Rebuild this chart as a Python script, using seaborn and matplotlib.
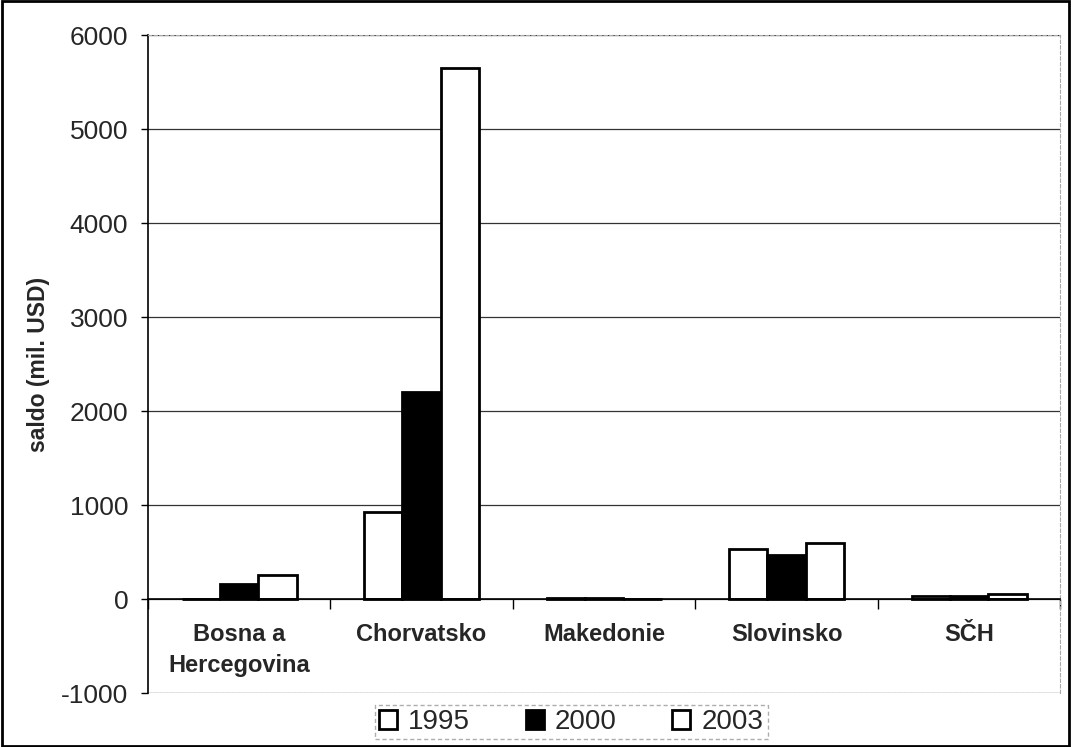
import pandas as pd
import numpy as np
import matplotlib.pyplot as plt
import seaborn as sns
from matplotlib.patches import Patch, Rectangle

plt.switch_backend("Agg")

countries = ["Bosna a\nHercegovina", "Chorvatsko", "Makedonie", "Slovinsko", "SČH"]
years = ["1995", "2000", "2003"]
saldo_1995 = [0, 925, 12, 530, 35]
saldo_2000 = [160, 2200, 15, 470, 35]
saldo_2003 = [255, 5650, 0, 595, 60]

df = pd.DataFrame({
    "country": countries * 3,
    "year": [y for y in years for _ in countries],
    "saldo": saldo_1995 + saldo_2000 + saldo_2003,
})

sns.set_style("white")
plt.rcParams["font.family"] = ["Liberation Sans", "DejaVu Sans"]

fig, ax = plt.subplots(figsize=(10.71, 7.47), dpi=100)
fig.subplots_adjust(left=0.138, right=0.99, top=0.953, bottom=0.072)

colors = {"1995": "white", "2000": "black", "2003": "white"}
sns.barplot(data=df, x="country", y="saldo", hue="year", palette=colors,
            width=0.63, edgecolor="black", linewidth=2, ax=ax, legend=False)

ax.set_ylim(-1000, 6000)
ax.set_xlim(-0.5, 4.5)
ax.set_yticks(np.arange(-1000, 6001, 1000))
ax.set_yticklabels([str(v) for v in range(-1000, 6001, 1000)])
ax.yaxis.grid(True, color="#333333", linewidth=0.9)
ax.set_axisbelow(True)
ax.tick_params(axis="y", labelsize=19, length=5, width=1, color="black",
               left=True, pad=9)

# category axis sits on the zero line, Excel style
ax.spines["bottom"].set_position(("data", 0))
ax.spines["bottom"].set_color("black")
ax.spines["bottom"].set_linewidth(1.2)
ax.spines["left"].set_color("black")
ax.spines["left"].set_linewidth(1.2)
for s in ["top", "right"]:
    ax.spines[s].set_color("#aaaaaa")
    ax.spines[s].set_linewidth(0.8)
    ax.spines[s].set_linestyle((0, (3, 2)))
ax.axhline(-1000, color="#aaaaaa", linewidth=0.8, linestyle=(0, (3, 2)))

ax.set_xticks(range(len(countries)))
ax.set_xticklabels(countries, fontsize=17, fontweight="bold", linespacing=1.45)
ax.set_xticks(np.arange(-0.5, 4.6, 1), minor=True)
ax.tick_params(axis="x", which="major", length=0, pad=17)
ax.tick_params(axis="x", which="minor", length=7, width=1, color="black", bottom=True)

ax.set_xlabel("")
ax.set_ylabel("saldo (mil. USD)", fontsize=16.5, fontweight="bold", labelpad=8)

handles = [Patch(facecolor=colors[y], edgecolor="black", linewidth=2, label=y) for y in years]
leg = ax.legend(handles=handles, loc="upper center", bbox_to_anchor=(0.464, -0.018),
                ncol=3, fontsize=20, frameon=True, fancybox=False,
                handlelength=0.65, handleheight=0.65, handletextpad=0.4,
                columnspacing=2.0, borderpad=0.15, borderaxespad=0)
leg.get_frame().set_edgecolor("#999999")
leg.get_frame().set_linestyle((0, (3, 2)))

fig.patches.append(Rectangle((0.002, 0.002), 0.996, 0.996, transform=fig.transFigure,
                             fill=False, edgecolor="black", linewidth=2))

plt.savefig("out.png", dpi=100)
